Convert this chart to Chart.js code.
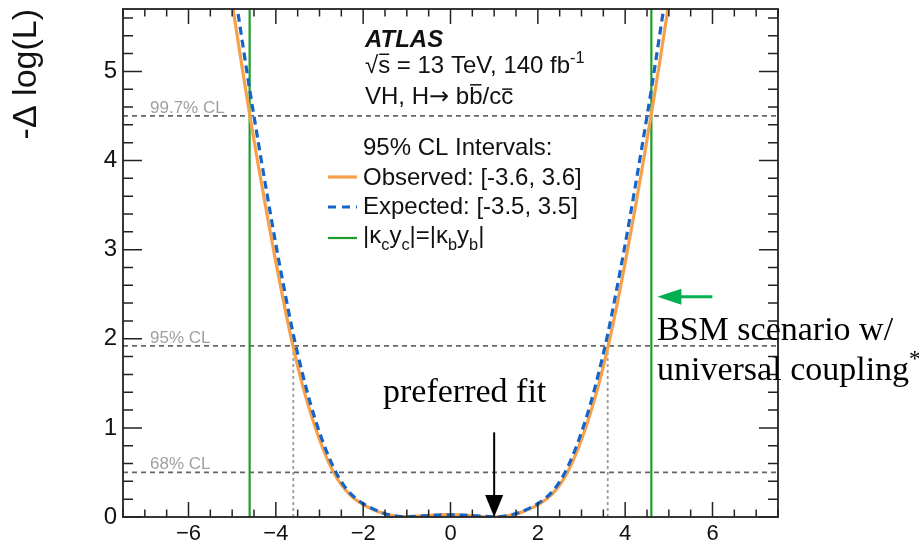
<!DOCTYPE html>
<html>
<head>
<meta charset="utf-8">
<script src="https://cdn.jsdelivr.net/npm/chart.js@4.4.1/dist/chart.umd.min.js"></script>
<style>
html, body { margin: 0; padding: 0; background: #fff; }
</style>
</head>
<body>
<canvas id="likelihood" width="919" height="545"></canvas>
<script>
// κc scan
const kappaC = [-5.2, -5.0, -4.8, -4.6, -4.4, -4.2, -4.0, -3.8, -3.6, -3.4, -3.2, -3.0, -2.8, -2.6, -2.4, -2.2, -2.0,
    -1.8, -1.6, -1.4, -1.2, -1.0, -0.8, -0.6, -0.4, -0.2, 0, 0.2, 0.4, 0.6, 0.8, 1.0, 1.2, 1.4, 1.6, 1.8,
    2.0, 2.2, 2.4, 2.6, 2.8, 3.0, 3.2, 3.4, 3.6, 3.8, 4.0, 4.2, 4.4, 4.6, 4.8, 5.0, 5.2];
const observed = [6.45, 5.77, 5.13, 4.52, 3.94, 3.39, 2.86, 2.36, 1.9, 1.5, 1.16, 0.87, 0.625, 0.435, 0.3, 0.205, 0.14,
    0.09, 0.05, 0.022, 0.008, 0.004, 0.008, 0.015, 0.022, 0.027, 0.028, 0.025, 0.018, 0.01, 0.003, 0, 0.005, 0.021, 0.049, 0.088,
    0.137, 0.202, 0.296, 0.434, 0.624, 0.866, 1.158, 1.498, 1.895, 2.35, 2.85, 3.385, 3.945, 4.525, 5.13, 5.77, 6.45];
const expected = [6.8, 6.1, 5.44, 4.8, 4.2, 3.62, 3.06, 2.54, 2.05, 1.63, 1.26, 0.95, 0.69, 0.48, 0.325, 0.222, 0.15,
    0.097, 0.055, 0.025, 0.008, 0.003, 0.006, 0.012, 0.018, 0.022, 0.024, 0.022, 0.018, 0.012, 0.006, 0.003, 0.008, 0.025, 0.055, 0.097,
    0.15, 0.222, 0.325, 0.48, 0.69, 0.95, 1.26, 1.63, 2.05, 2.54, 3.06, 3.62, 4.2, 4.8, 5.44, 6.1, 6.8];

// CL levels (-Δ log L)
const clLevels = [0.5, 1.92, 4.5];
const clLabels = ['68% CL', '95% CL', '99.7% CL'];
const obsInterval = [-3.6, 3.6];
const bsmKappa = [-4.6, 4.6];   // |κc yc| = |κb yb|
const bestFit = 1.0;

const xTicks = [-6, -4, -2, 0, 2, 4, 6];
const yTicks = [0, 1, 2, 3, 4, 5];
const xRange = [-7.5, 7.5];
const yRange = [0, 5.7];

const SANS = '"Liberation Sans", Arial, sans-serif';
const SERIF = '"Liberation Serif", "Times New Roman", serif';

const ORANGE = '#f7a04a';
const BLUE = '#1565c8';
const GREEN = '#1f9d2a';

const datasets = [];
datasets.push({
    data: kappaC.map((k, i) => ({ x: k, y: expected[i] })),
    showLine: true, borderColor: BLUE, borderWidth: 3.2, borderDash: [8, 5],
    cubicInterpolationMode: 'monotone', pointRadius: 0, clip: 0
});
datasets.push({
    data: kappaC.map((k, i) => ({ x: k, y: observed[i] })),
    showLine: true, borderColor: ORANGE, borderWidth: 3.2,
    cubicInterpolationMode: 'monotone', pointRadius: 0, clip: 0
});
bsmKappa.forEach(k => {
    datasets.push({
        data: [{ x: k, y: yRange[0] }, { x: k, y: yRange[1] }],
        showLine: true, borderColor: GREEN, borderWidth: 2.2, pointRadius: 0, clip: 0
    });
});
obsInterval.forEach(k => {
    datasets.push({
        data: [{ x: k, y: 0 }, { x: k, y: clLevels[1] }],
        showLine: true, borderColor: '#9a9a9a', borderWidth: 1.8, borderDash: [3, 3], pointRadius: 0, clip: 0
    });
});
clLevels.forEach(l => {
    datasets.push({
        data: [{ x: xRange[0], y: l }, { x: xRange[1], y: l }],
        showLine: true, borderColor: '#666', borderWidth: 1.8, borderDash: [5, 4], pointRadius: 0, clip: 0
    });
});

// 上付き・下付き・上線つきの文字列を描く
function drawRich(ctx, x, y, parts, size, family) {
    parts.forEach(p => {
        const small = p.sub || p.sup;
        const fs = small ? size * 0.68 : size;
        ctx.font = `${p.style || ''} ${fs}px ${p.family || family}`;
        const dy = p.sub ? size * 0.28 : (p.sup ? -size * 0.42 : 0);
        ctx.fillText(p.t, x, y + dy);
        const w = ctx.measureText(p.t).width;
        if (p.bar) {
            ctx.save();
            ctx.lineWidth = 1.5;
            ctx.strokeStyle = ctx.fillStyle;
            ctx.beginPath();
            ctx.moveTo(x + 1, y - size * p.bar);
            ctx.lineTo(x + w - 1, y - size * p.bar);
            ctx.stroke();
            ctx.restore();
        }
        x += w;
    });
    return x;
}

const decor = {
    id: 'decor',
    afterDraw(chart) {
        const { ctx, chartArea: a, scales: { x, y } } = chart;
        ctx.save();

        // 枠と内向きの目盛り
        ctx.strokeStyle = '#222';
        ctx.lineWidth = 1.8;
        ctx.strokeRect(a.left, a.top, a.right - a.left, a.bottom - a.top);
        ctx.lineWidth = 1.5;
        ctx.beginPath();
        for (let i = -15; i <= 15; i++) {
            const v = i / 2;
            const px = x.getPixelForValue(v);
            const len = (v % 2 === 0) ? 15 : 7.5;
            ctx.moveTo(px, a.bottom); ctx.lineTo(px, a.bottom - len);
            ctx.moveTo(px, a.top); ctx.lineTo(px, a.top + len);
        }
        for (let i = 0; i <= 28; i++) {
            const py = y.getPixelForValue(i * 0.2);
            const len = (i % 5 === 0) ? 19 : 10;
            ctx.moveTo(a.left, py); ctx.lineTo(a.left + len, py);
            ctx.moveTo(a.right, py); ctx.lineTo(a.right - len, py);
        }
        ctx.stroke();

        // CL ラベル
        ctx.fillStyle = '#a0a0a0';
        ctx.font = `17px ${SANS}`;
        ctx.textBaseline = 'alphabetic';
        clLevels.forEach((l, i) => {
            ctx.fillText(clLabels[i], a.left + 27, y.getPixelForValue(l) - 3);
        });

        // ATLAS ラベルと凡例
        ctx.fillStyle = '#111';
        const lx = 365;
        ctx.font = `italic bold 24px ${SANS}`;
        ctx.fillText('ATLAS', lx, 47);
        drawRich(ctx, lx, 73, [
            { t: '\u221A' }, { t: 's', bar: 0.78 }, { t: ' = 13 TeV, 140 fb' }, { t: '-1', sup: true }
        ], 24, SANS);
        drawRich(ctx, lx, 104, [
            { t: 'VH, H' }, { t: '\u2192', family: '"DejaVu Sans", sans-serif' }, { t: ' b' },
            { t: 'b', bar: 0.8 }, { t: '/c' }, { t: 'c', bar: 0.62 }
        ], 24, SANS);
        ctx.font = `24px ${SANS}`;
        ctx.fillText('95% CL Intervals:', 363, 155);
        ctx.fillText('Observed: [-3.6, 3.6]', 363, 185);
        ctx.fillText('Expected: [-3.5, 3.5]', 363, 214);
        drawRich(ctx, 363, 243, [
            { t: '|\u03BA' }, { t: 'c', sub: true }, { t: 'y' }, { t: 'c', sub: true },
            { t: '|=|\u03BA' }, { t: 'b', sub: true }, { t: 'y' }, { t: 'b', sub: true }, { t: '|' }
        ], 24, SANS);

        const sample = (col, yy, dash, w) => {
            ctx.save();
            ctx.strokeStyle = col; ctx.lineWidth = w; ctx.setLineDash(dash);
            ctx.beginPath(); ctx.moveTo(328, yy); ctx.lineTo(357, yy); ctx.stroke();
            ctx.restore();
        };
        sample(ORANGE, 177, [], 3.2);
        sample(BLUE, 207, [8, 6], 3.2);
        sample(GREEN, 238, [], 2.2);

        // preferred fit の矢印
        const fx = x.getPixelForValue(bestFit);
        const fTop = y.getPixelForValue(0.95);
        const fBot = y.getPixelForValue(0);
        ctx.strokeStyle = '#000'; ctx.fillStyle = '#000'; ctx.lineWidth = 2;
        ctx.beginPath(); ctx.moveTo(fx, fTop); ctx.lineTo(fx, fBot - 20); ctx.stroke();
        ctx.beginPath();
        ctx.moveTo(fx, fBot); ctx.lineTo(fx - 9, fBot - 22); ctx.lineTo(fx + 9, fBot - 22);
        ctx.closePath(); ctx.fill();
        ctx.font = `34px ${SERIF}`;
        ctx.fillText('preferred fit', 383, 402);

        // BSM シナリオの矢印
        const gx = x.getPixelForValue(bsmKappa[1]) + 6;
        const gy = y.getPixelForValue(2.47);
        ctx.strokeStyle = '#00b050'; ctx.fillStyle = '#00b050'; ctx.lineWidth = 3;
        ctx.beginPath(); ctx.moveTo(gx + 20, gy); ctx.lineTo(gx + 55, gy); ctx.stroke();
        ctx.beginPath();
        ctx.moveTo(gx, gy); ctx.lineTo(gx + 24, gy - 8); ctx.lineTo(gx + 24, gy + 8);
        ctx.closePath(); ctx.fill();

        ctx.fillStyle = '#000';
        ctx.font = `34px ${SERIF}`;
        ctx.fillText('BSM scenario w/', 657, 340);
        drawRich(ctx, 657, 380, [{ t: 'universal coupling' }, { t: '*', sup: true }], 34, SERIF);

        ctx.restore();
    }
};

new Chart(document.getElementById('likelihood'), {
    type: 'scatter',
    data: { datasets: datasets },
    options: {
        responsive: false,
        animation: false,
        layout: { padding: { top: 9, right: 141, left: 0, bottom: 0 } },
        plugins: { legend: { display: false }, tooltip: { enabled: false } },
        elements: { point: { radius: 0 } },
        scales: {
            x: {
                type: 'linear', min: xRange[0], max: xRange[1],
                grid: { display: false, drawTicks: false },
                border: { display: false },
                afterBuildTicks: s => { s.ticks = xTicks.map(v => ({ value: v })); },
                afterFit: s => { s.height = 28; s.paddingLeft = 0; s.paddingRight = 0; },
                ticks: {
                    font: { family: SANS, size: 22 }, color: '#111', padding: 4,
                    maxRotation: 0, autoSkip: false,
                    callback: v => String(v).replace('-', '\u2212')
                }
            },
            y: {
                type: 'linear', min: yRange[0], max: yRange[1],
                grid: { display: false, drawTicks: false },
                border: { display: false },
                afterBuildTicks: s => { s.ticks = yTicks.map(v => ({ value: v })); },
                afterFit: s => { s.width = 123; s.paddingTop = 0; s.paddingBottom = 0; },
                ticks: { font: { family: SANS, size: 24 }, color: '#111', padding: 6 },
                title: {
                    display: true, text: '-\u0394 log(L)', align: 'end',
                    font: { family: SANS, size: 34 }, color: '#111',
                    padding: { top: 6, bottom: 0 }
                }
            }
        }
    },
    plugins: [decor]
});
</script>
</body>
</html>
